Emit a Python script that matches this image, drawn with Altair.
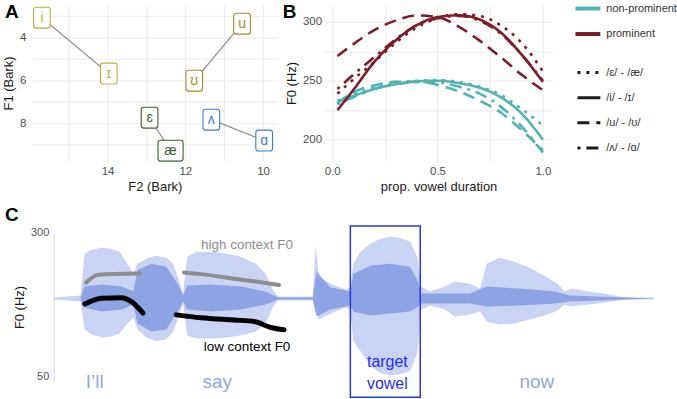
import altair as alt
import pandas as pd

FONT = "Liberation Sans"

# ---------------- Panel A: vowel space ----------------
vowels = ["i", "ɪ", "u", "ʊ", "ɛ", "æ", "ʌ", "ɑ"]
vowel_pairs = ["i-ɪ", "i-ɪ", "u-ʊ", "u-ʊ", "ɛ-æ", "ɛ-æ", "ʌ-ɑ", "ʌ-ɑ"]
f2_bark = [15.69, 13.97, 10.54, 11.77, 12.92, 12.38, 11.33, 9.97]
f1_bark = [3.07, 5.68, 3.35, 6.01, 7.74, 9.28, 7.83, 8.81]
pair_order = ["i-ɪ", "u-ʊ", "ɛ-æ", "ʌ-ɑ"]
pair_colors = ["#b3b43a", "#a48a2c", "#3f5d33", "#3b7bd4"]

# ---------------- Panel B: F0 curves ----------------
duration = [0.025, 0.1, 0.2, 0.3, 0.4, 0.5, 0.6, 0.7, 0.8, 0.9, 1.0]
prom_eae = [239, 251, 266, 282, 295, 303, 306.5, 305, 297, 282, 258]
prom_iI = [225, 242, 266, 284, 297, 304, 305.5, 302, 291, 272, 249]
prom_uU = [271, 281, 293, 301, 305.5, 304, 296, 284, 270, 255, 242]
prom_Va = [243, 255, 270, 285, 297, 303, 305, 301, 290, 272, 250]
nonprom_eae = [233, 238, 244, 248, 250, 250.5, 249, 245, 238, 226, 212]
nonprom_iI = [232, 237, 243, 247, 249.5, 250, 248, 244, 236, 222, 200]
nonprom_uU = [231, 240, 246, 249, 249, 246.5, 241, 233, 223, 208, 191]
nonprom_Va = [230, 236, 243, 247, 249, 248.5, 245, 239, 228, 211, 189]
prominence_levels = ["non-prominent", "prominent"]
prominence_colors = ["#52b3b3", "#7a1e27"]
pair_labels = ["/ɛ/ - /æ/", "/i/ - /ɪ/", "/u/ - /ʊ/", "/ʌ/ - /ɑ/"]
pair_dashes = [[3, 6], [1, 0], [12, 7], [3, 6, 12, 6]]

# ---------------- Panel C: waveform + F0 contours ----------------
wave_ms = [0, 90, 103, 127, 160, 193, 220, 247, 267, 280, 310, 343, 377, 400, 420, 433,
           447, 477, 527, 577, 627, 677, 710, 733, 750, 867, 877, 887, 927, 977, 993,
           1003, 1027, 1060, 1093, 1127, 1160, 1193, 1217, 1230, 1260, 1310, 1343, 1393,
           1427, 1450, 1493, 1543, 1593, 1643, 1687, 1710, 1733, 1793, 1843, 1893, 1927, 2010]
wave_top = [1, 3, 45, 49, 51, 50, 47, 35, 25, 35, 40, 43, 41, 35, 17, 5,
            42, 47, 47, 45, 42, 35, 25, 9, 2, 2, 54, 22, 15, 9, 11,
            35, 47, 55, 60, 62, 61, 57, 42, 12, 7, 12, 17, 15,
            10, 35, 41, 37, 31, 23, 15, 7, 10, 7, 5, 2, 1, 1]
wave_bottom = [-1, -3, -31, -36, -39, -38, -35, -25, -19, -31, -39, -43, -41, -33, -17, -5,
               -37, -40, -40, -39, -37, -33, -25, -9, -2, -2, -13, -21, -15, -9, -11,
               -43, -53, -67, -75, -77, -76, -73, -55, -11, -7, -11, -18, -16,
               -13, -23, -26, -25, -21, -17, -12, -6, -8, -6, -4, -2, -1, -1]
core_ms = [90, 103, 160, 227, 267, 280, 327, 377, 420, 433, 447, 527, 627, 710, 750, 867,
           880, 927, 993, 1003, 1060, 1127, 1193, 1220, 1230, 1310, 1393, 1450, 1560, 1677,
           1727, 2010]
core_top = [1, 12, 14, 12, 7, 29, 35, 32, 12, 3, 13, 14, 12, 7, 1, 1,
            27, 11, 7, 25, 33, 35, 32, 17, 5, 5, 5, 12, 10, 7, 3, 0]
core_bottom = [-1, -9, -13, -11, -6, -25, -33, -31, -11, -3, -11, -13, -11, -6, -1, -1,
               -18, -11, -7, -13, -17, -15, -13, -8, -5, -5, -5, -8, -7, -5, -3, 0]

high_ms = [[108, 149, 288], [436, 493, 604, 704, 754]]
high_hz = [[213, 227, 229], [231, 228, 220, 213, 209]]
low_ms = [[104, 160, 227, 260, 299], [410, 493, 604, 671, 727, 771]]
low_hz = [[176, 186, 187, 180, 160], [157, 152, 148, 145.5, 135, 131]]

words = ["I’ll", "say", "now"]
word_ms = [137, 547, 1617]
context_label_ms = 647
target_start_ms, target_end_ms = 993, 1227
target_top_hz, target_bottom_hz = 312, 13.5
target_label_ms = 1117

panel_letters = ["A", "B", "C"]

# ======================= Panel A =======================
dfA = pd.DataFrame({"vowel": vowels, "pair": vowel_pairs, "F2": f2_bark, "F1": f1_bark})
colA = alt.Scale(domain=pair_order, range=pair_colors)
xA = alt.X("F2:Q", scale=alt.Scale(domain=[9.62, 15.95], reverse=True, nice=False, zero=False),
           axis=alt.Axis(title="F2 (Bark)", values=[10, 11, 12, 13, 14, 15],
                         labelExpr="datum.value % 2 == 0 ? datum.label : ''",
                         labelPadding=4, titlePadding=4))
yA = alt.Y("F1:Q", scale=alt.Scale(domain=[2.47, 9.77], reverse=True, nice=False, zero=False),
           axis=alt.Axis(title="F1 (Bark)", values=[3, 4, 5, 6, 7, 8, 9],
                         labelExpr="datum.value % 2 == 0 ? datum.label : ''",
                         labelPadding=6, titlePadding=4))

narrow_box = ("M -0.55 -1 L 0.55 -1 Q 0.8 -1 0.8 -0.75 L 0.8 0.75 Q 0.8 1 0.55 1 "
              "L -0.55 1 Q -0.8 1 -0.8 0.75 L -0.8 -0.75 Q -0.8 -1 -0.55 -1 Z")
wide_box = ("M -0.95 -1 L 0.95 -1 Q 1.2 -1 1.2 -0.75 L 1.2 0.75 Q 1.2 1 0.95 1 "
            "L -0.95 1 Q -1.2 1 -1.2 0.75 L -1.2 -0.75 Q -1.2 -1 -0.95 -1 Z")

baseA = alt.Chart(dfA)
linesA = baseA.mark_line(color="#8a8a8a", strokeWidth=1.2).encode(x=xA, y=yA, detail="pair:N")
boxesA = baseA.mark_point(filled=True, fill="white", opacity=1, fillOpacity=1, size=441,
                          strokeWidth=1.1).encode(
    x=xA, y=yA,
    stroke=alt.Stroke("pair:N", scale=colA, legend=None),
    shape=alt.condition(alt.datum.vowel == "æ", alt.value(wide_box), alt.value(narrow_box)),
)
textA = baseA.mark_text(fontSize=14, baseline="middle", align="center").encode(
    x=xA, y=yA, text="vowel:N", color=alt.Color("pair:N", scale=colA, legend=None))
letterA = alt.Chart(pd.DataFrame({"t": [panel_letters[0]]})).mark_text(
    fontSize=19, fontWeight="bold", align="left", baseline="top", color="black").encode(
    text="t:N", x=alt.value(-27), y=alt.value(-2))
panelA = alt.layer(linesA, boxesA, textA, letterA).properties(width=247, height=157)

# ======================= Panel B =======================
rows = []
series = [
    ("non-prominent", pair_labels[0], nonprom_eae), ("non-prominent", pair_labels[1], nonprom_iI),
    ("non-prominent", pair_labels[2], nonprom_uU), ("non-prominent", pair_labels[3], nonprom_Va),
    ("prominent", pair_labels[0], prom_eae), ("prominent", pair_labels[1], prom_iI),
    ("prominent", pair_labels[2], prom_uU), ("prominent", pair_labels[3], prom_Va),
]
for prom, pr, vals in series:
    for d, v in zip(duration, vals):
        rows.append({"prom": prom, "pair": pr, "dur": d, "f0": v})
dfB = pd.DataFrame(rows)
colB = alt.Scale(domain=prominence_levels, range=prominence_colors)
dashB = alt.Scale(domain=pair_labels, range=pair_dashes)
xB = alt.X("dur:Q", scale=alt.Scale(domain=[-0.036, 1.046], nice=False, zero=False),
           axis=alt.Axis(title="prop. vowel duration", values=[0, 0.25, 0.5, 0.75, 1.0],
                         labelExpr="(datum.value * 4) % 2 == 0 ? format(datum.value, '.1f') : ''",
                         labelPadding=4, titlePadding=4))
yB = alt.Y("f0:Q", scale=alt.Scale(domain=[181.7, 314.4], nice=False, zero=False),
           axis=alt.Axis(title="F0 (Hz)", values=[200, 225, 250, 275, 300],
                         labelExpr="datum.value % 50 == 0 ? datum.label : ''",
                         labelPadding=3, titlePadding=4))
linesB = alt.Chart(dfB).mark_line(strokeWidth=2.6, interpolate="monotone").encode(
    x=xB, y=yB,
    color=alt.Color("prom:N", scale=colB, legend=None),
    strokeDash=alt.StrokeDash("pair:N", scale=dashB, legend=None),
    detail="prom:N",
)
letterB = alt.Chart(pd.DataFrame({"t": [panel_letters[1]]})).mark_text(
    fontSize=19, fontWeight="bold", align="left", baseline="top", color="black").encode(
    text="t:N", x=alt.value(-42), y=alt.value(-2))
panelB = alt.layer(linesB, letterB).properties(width=229, height=157)

# ======================= Legend panel =======================
dfLc = pd.DataFrame({"lab": prominence_levels})
dfLt = pd.DataFrame({"lab": pair_labels})
yLc = alt.Y("lab:N", scale=alt.Scale(type="point", domain=prominence_levels, range=[3.7, 29.3],
                                     padding=0), axis=None)
yLt = alt.Y("lab:N", scale=alt.Scale(type="point", domain=pair_labels, range=[68, 143.7],
                                     padding=0), axis=None)
legC_lines = alt.Chart(dfLc).mark_rule(strokeWidth=4).encode(
    x=alt.value(-24), x2=alt.value(1), y=yLc,
    color=alt.Color("lab:N", scale=colB, legend=None))
legC_text = alt.Chart(dfLc).mark_text(align="left", baseline="middle", fontSize=11, color="#333333").encode(
    x=alt.value(7), y=yLc, text="lab:N")
legT_lines = alt.Chart(dfLt).mark_rule(strokeWidth=3, color="#1a1a1a").encode(
    x=alt.value(-22), x2=alt.value(1), y=yLt,
    strokeDash=alt.StrokeDash("lab:N", scale=dashB, legend=None))
legT_text = alt.Chart(dfLt).mark_text(align="left", baseline="middle", fontSize=11, color="#333333").encode(
    x=alt.value(7), y=yLt, text="lab:N")
panelL = alt.layer(alt.layer(legC_lines, legC_text), alt.layer(legT_lines, legT_text)).resolve_scale(
    y="independent").properties(width=70, height=157)

# ======================= Panel C =======================
xC_scale = alt.Scale(domain=[-73.3, 2020], nice=False, zero=False)
waveY = alt.Scale(domain=[-83, 66], nice=False, zero=False)
hzY = alt.Scale(domain=[41.3, 300], nice=False, zero=False)
hzAxis = alt.Axis(title="F0 (Hz)", values=[50, 300], grid=False, domain=True, domainColor="#d6d6d6",
                  ticks=False, labelColor="#555555", labelFontSize=11, labelPadding=5, titlePadding=4,
                  titleFontSize=13, offset=-22)

dfW = pd.DataFrame({"ms": wave_ms, "top": wave_top, "bot": wave_bottom})
dfCore = pd.DataFrame({"ms": core_ms, "top": core_top, "bot": core_bottom})
outer = alt.Chart(dfW).mark_area(color="#93aaea", opacity=0.5).encode(
    x=alt.X("ms:Q", scale=xC_scale, axis=None),
    y=alt.Y("top:Q", scale=waveY, axis=None), y2="bot:Q")
core = alt.Chart(dfCore).mark_area(color="#7893df", opacity=0.75).encode(
    x=alt.X("ms:Q", scale=xC_scale, axis=None),
    y=alt.Y("top:Q", scale=waveY, axis=None), y2="bot:Q")
wave = alt.layer(outer, core)

f0rows = []
for i, (ms_list, hz_list) in enumerate(zip(high_ms, high_hz)):
    for m, h in zip(ms_list, hz_list):
        f0rows.append({"ctx": "high", "seg": f"h{i}", "ms": m, "hz": h})
for i, (ms_list, hz_list) in enumerate(zip(low_ms, low_hz)):
    for m, h in zip(ms_list, hz_list):
        f0rows.append({"ctx": "low", "seg": f"l{i}", "ms": m, "hz": h})
dfF0 = pd.DataFrame(f0rows)
highLine = alt.Chart(dfF0[dfF0.ctx == "high"]).mark_line(
    color="#8c8c8c", strokeWidth=4, strokeCap="round", interpolate="monotone").encode(
    x=alt.X("ms:Q", scale=xC_scale, axis=None),
    y=alt.Y("hz:Q", scale=hzY, axis=hzAxis), detail="seg:N")
lowLine = alt.Chart(dfF0[dfF0.ctx == "low"]).mark_line(
    color="#000000", strokeWidth=5, strokeCap="round", interpolate="monotone").encode(
    x=alt.X("ms:Q", scale=xC_scale, axis=None),
    y=alt.Y("hz:Q", scale=hzY, axis=hzAxis), detail="seg:N")
dfRect = pd.DataFrame({"s": [target_start_ms], "e": [target_end_ms],
                       "t": [target_top_hz], "b": [target_bottom_hz]})
rectC = alt.Chart(dfRect).mark_rect(fillOpacity=0, stroke="#2336f0", strokeWidth=1.5).encode(
    x=alt.X("s:Q", scale=xC_scale, axis=None), x2="e:Q",
    y=alt.Y("t:Q", scale=hzY, axis=hzAxis), y2="b:Q")
dfWords = pd.DataFrame({"w": words, "ms": word_ms})
wordsC = alt.Chart(dfWords).mark_text(fontSize=19, color="#8fa7e6", baseline="middle").encode(
    x=alt.X("ms:Q", scale=xC_scale, axis=None), y=alt.value(150), text="w:N")
dfHigh = pd.DataFrame({"w": ["high context F0"], "ms": [context_label_ms]})
dfLow = pd.DataFrame({"w": ["low context F0"], "ms": [context_label_ms]})
highTxt = alt.Chart(dfHigh).mark_text(fontSize=13.5, color="#8c8c8c", baseline="middle").encode(
    x=alt.X("ms:Q", scale=xC_scale, axis=None), y=alt.value(12), text="w:N")
lowTxt = alt.Chart(dfLow).mark_text(fontSize=13.5, color="#000000", baseline="middle").encode(
    x=alt.X("ms:Q", scale=xC_scale, axis=None), y=alt.value(115), text="w:N")
dfT1 = pd.DataFrame({"w": ["target"], "ms": [target_label_ms]})
dfT2 = pd.DataFrame({"w": ["vowel"], "ms": [target_label_ms]})
tgt1 = alt.Chart(dfT1).mark_text(fontSize=16, color="#1f30ee", baseline="middle").encode(
    x=alt.X("ms:Q", scale=xC_scale, axis=None), y=alt.value(130), text="w:N")
tgt2 = alt.Chart(dfT2).mark_text(fontSize=16, color="#1f30ee", baseline="middle").encode(
    x=alt.X("ms:Q", scale=xC_scale, axis=None), y=alt.value(152), text="w:N")
letterC = alt.Chart(pd.DataFrame({"t": [panel_letters[2]]})).mark_text(
    fontSize=19, fontWeight="bold", align="left", baseline="top", color="black").encode(
    text="t:N", x=alt.value(-27), y=alt.value(-27))
f0layer = alt.layer(highLine, lowLine, rectC, wordsC, highTxt, lowTxt, tgt1, tgt2, letterC)
panelC = alt.layer(wave, f0layer).resolve_scale(y="independent").properties(width=628, height=149)

top = alt.hconcat(panelA, panelB, panelL, spacing=47, bounds="flush").resolve_scale(
    color="independent", stroke="independent", strokeDash="independent", shape="independent")
chart = alt.vconcat(top, panelC, spacing=12).resolve_scale(
    color="independent", stroke="independent", strokeDash="independent"
).properties(
    padding={"left": 2, "top": 1, "right": 0, "bottom": 0}
).configure(font=FONT).configure_view(stroke=None).configure_axis(
    domain=False, ticks=False, gridColor="#ebebeb", gridWidth=1,
    labelColor="#4d4d4d", labelFontSize=11.5, titleFontSize=13,
    titleFontWeight="normal", titleColor="#1a1a1a", labelFont=FONT, titleFont=FONT
).configure_text(font=FONT)

chart.save("out.html", embed_options={"renderer": "svg", "actions": False})
